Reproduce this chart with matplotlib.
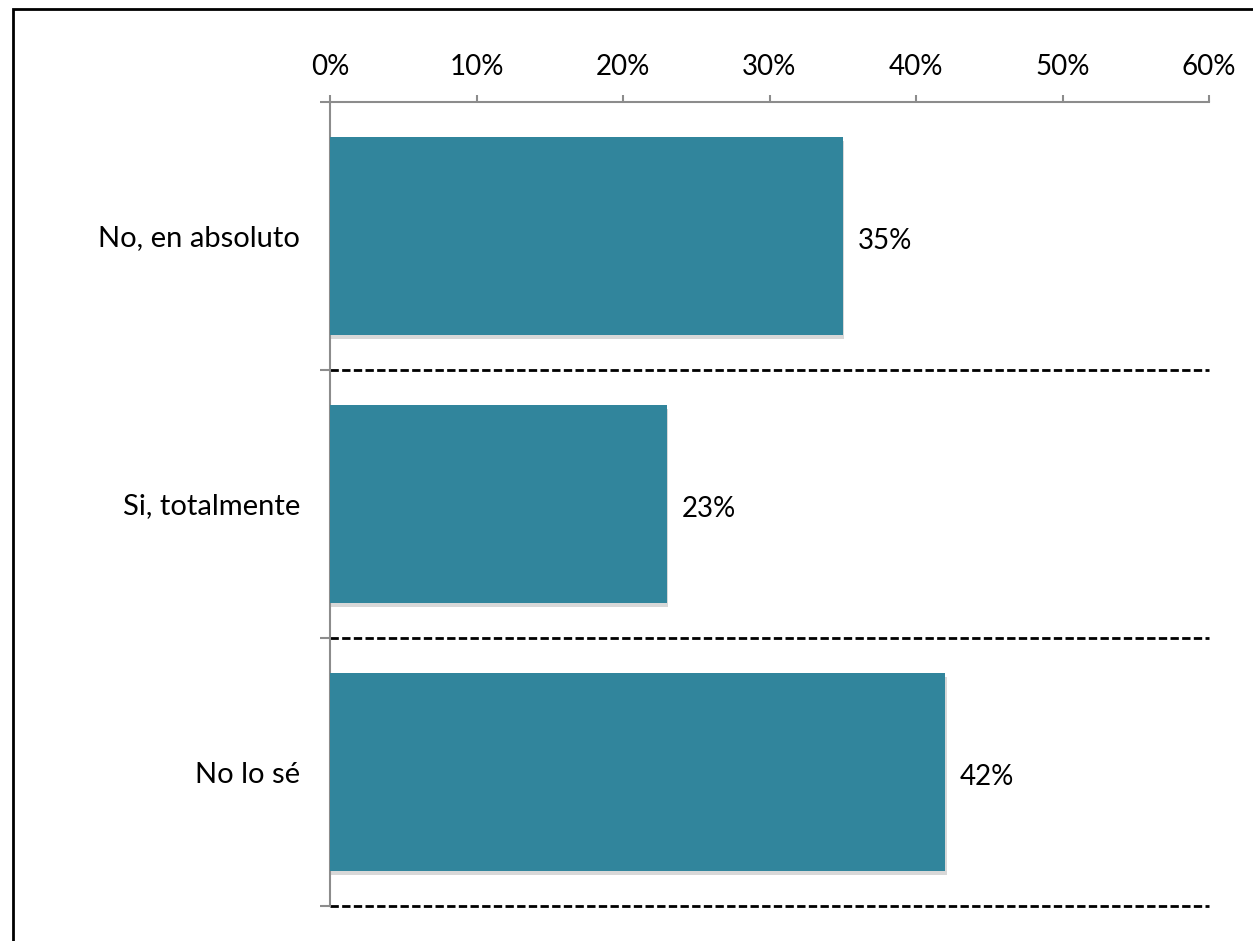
import matplotlib.pyplot as plt
import matplotlib.patheffects as pe
from matplotlib.patches import Rectangle
from matplotlib.ticker import FixedLocator, PercentFormatter

plt.rcParams['font.family'] = ['Lato', 'DejaVu Sans']

# data
categories = ["No, en absoluto", "Si, totalmente", "No lo sé"]
values = [35, 23, 42]
bar_color = "#31859C"

fig = plt.figure(figsize=(12.53, 9.41), dpi=100)
ax = fig.add_axes([330 / 1253, 1 - 906 / 941, 879 / 1253, 804 / 941])

# outer frame of the chart
fig.patches.append(Rectangle((12.5 / 1253, -0.01), 1.1, 1 - 8.5 / 941 + 0.01,
                             transform=fig.transFigure, fill=False,
                             edgecolor="black", linewidth=2))

pos = list(range(len(categories)))
bars = ax.barh(pos, values, height=0.74, color=bar_color, zorder=3)
for b in bars:
    b.set_path_effects([pe.SimplePatchShadow(offset=(1, -3), shadow_rgbFace="gray", alpha=0.3),
                        pe.Normal()])

# value labels
for b, v in zip(bars, values):
    ax.text(b.get_width() + 1.0, b.get_y() + b.get_height() / 2 + 0.02, f"{v}%",
            va="center", ha="left", fontsize=20)

ax.set_xlim(0, 60)
ax.set_ylim(2.5, -0.5)
ax.xaxis.set_major_formatter(PercentFormatter(decimals=0))
ax.xaxis.tick_top()
ax.set_xticks(range(0, 61, 10))
ax.tick_params(axis="x", which="major", direction="out", length=5, width=1.5,
               color="#8c8c8c", labelsize=20, pad=11)

ax.set_yticks(pos)
ax.set_yticklabels(categories)
ax.yaxis.set_minor_locator(FixedLocator([-0.5, 0.5, 1.5, 2.5]))
ax.tick_params(axis="y", which="major", length=0, labelsize=21, pad=21.5)
ax.tick_params(axis="y", which="minor", direction="out", length=7, width=1.5, color="#8c8c8c")

# dashed separators between categories
for y in [0.5, 1.5, 2.5]:
    ax.axhline(y, color="black", linestyle=(0, (3.0, 1.2)), linewidth=2.0,
               zorder=2, clip_on=False)

for side in ["right", "bottom"]:
    ax.spines[side].set_visible(False)
for side in ["left", "top"]:
    ax.spines[side].set_color("#8c8c8c")
    ax.spines[side].set_linewidth(1.5)

plt.savefig("out.png", dpi=100)
